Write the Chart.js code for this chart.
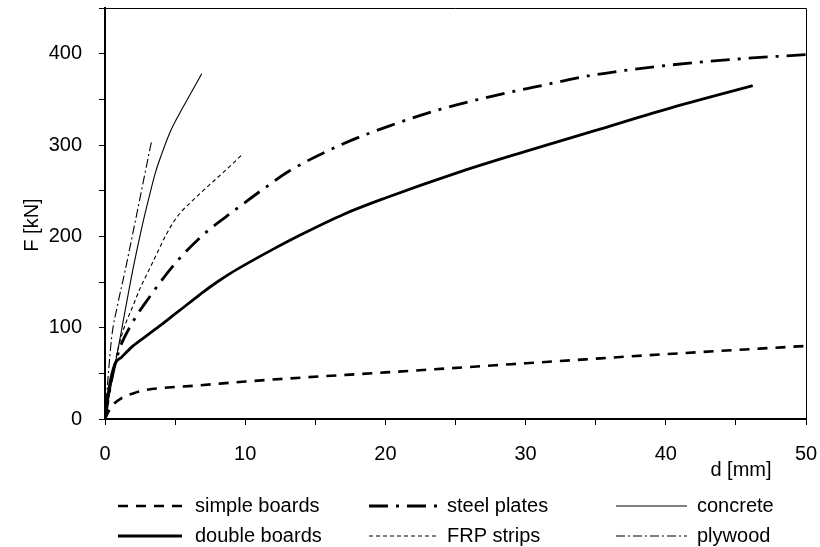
<!DOCTYPE html>
<html>
<head>
<meta charset="utf-8">
<script src="https://cdn.jsdelivr.net/npm/chart.js@4.4.1/dist/chart.umd.min.js"></script>
<style>
  html, body { margin: 0; padding: 0; background: #fff; }
</style>
</head>
<body>
<canvas id="myChart" width="820" height="547"></canvas>
<script>
  // Load F [kN] against displacement d [mm]
  var simpleD = [0, 0.25, 0.6, 1.2, 2, 3, 4.5, 6, 10, 13.2, 20, 30, 40, 50];
  var simpleF = [0, 8, 16, 23, 28, 32, 34.5, 36, 41, 44.5, 51, 61, 71, 80];

  var doubleD = [0, 0.3, 0.7, 1.2, 2, 3, 4, 5, 6, 7, 8, 9, 10, 12, 14, 17, 20, 25, 30, 35, 40, 46.2];
  var doubleF = [0, 35, 60, 68, 80, 91.5, 103, 115, 127, 139, 150, 160, 169, 186, 202, 224, 242, 269, 293, 316, 339, 365];

  var steelD = [0, 0.5, 1, 1.9, 3.1, 5.1, 7.1, 9.2, 11.4, 13.2, 16.8, 20.3, 23.9, 27.5, 30.5, 35, 40, 45, 50];
  var steelF = [0, 45, 75, 104, 132, 172, 203, 228, 253, 272, 300, 321, 339, 353, 363, 377, 387, 394, 399];

  var frpD = [0, 0.4, 0.8, 1.3, 2, 2.5, 3.1, 3.7, 4.3, 4.9, 5.5, 6.1, 7, 8, 9, 9.75];
  var frpF = [0, 36, 68, 97, 124, 143, 162, 181, 200, 216, 228, 237, 250, 264, 278, 289];

  var concreteD = [0, 0.5, 1.07, 1.5, 2.02, 2.6, 3.21, 3.6, 4.04, 4.64, 5.3, 6.1, 6.9];
  var concreteF = [0, 42, 88, 124, 166, 208, 247, 270, 290, 314, 334, 356, 378];

  var plywoodD = [0, 0.2, 0.48, 0.9, 1.43, 1.9, 2.3, 2.8, 3.33];
  var plywoodF = [0, 42, 90, 125, 162, 197, 227, 265, 305];

  var xTicks = [0, 10, 20, 30, 40, 50];
  var yTicks = [0, 100, 200, 300, 400];

  var FONT = '"Liberation Sans", Arial, Helvetica, sans-serif';

  function pts(xs, ys) {
    return xs.map(function(x, i) { return { x: x, y: ys[i] }; });
  }

  function series(label, xs, ys, width, dash) {
    return {
      label: label,
      data: pts(xs, ys),
      borderColor: '#000',
      backgroundColor: '#000',
      borderWidth: width,
      borderDash: dash,
      pointRadius: 0,
      fill: false,
      cubicInterpolationMode: 'monotone'
    };
  }

  var data = {
    datasets: [
      series('simple boards', simpleD, simpleF, 2.6, [10, 8]),
      series('double boards', doubleD, doubleF, 2.8, []),
      series('steel plates', steelD, steelF, 2.8, [19, 8, 3, 8]),
      series('FRP strips', frpD, frpF, 1.1, [4, 3]),
      series('concrete', concreteD, concreteF, 1.1, []),
      series('plywood', plywoodD, plywoodF, 1.1, [9, 3, 2, 3])
    ]
  };

  // frame, axis titles and a three-column legend under the plot
  var extras = {
    id: 'extras',
    afterDraw: function(chart) {
      var ctx = chart.ctx, a = chart.chartArea;
      ctx.save();
      ctx.strokeStyle = '#000';
      ctx.lineWidth = 1;
      ctx.setLineDash([]);
      ctx.beginPath();
      ctx.moveTo(a.left, a.top + 0.5);
      ctx.lineTo(a.right + 0.5, a.top + 0.5);
      ctx.lineTo(a.right + 0.5, a.bottom);
      ctx.stroke();

      ctx.fillStyle = '#000';
      ctx.font = '20px ' + FONT;
      ctx.textAlign = 'center';
      ctx.textBaseline = 'alphabetic';
      ctx.fillText('d [mm]', 741, 476);

      ctx.save();
      ctx.translate(38, 225);
      ctx.rotate(-Math.PI / 2);
      ctx.fillText('F [kN]', 0, 0);
      ctx.restore();

      var colX = [118, 369, 616];
      var colW = [64, 70, 71];
      var textX = [195, 447, 697];
      var rowY = [512, 542];
      ctx.textAlign = 'left';
      chart.data.datasets.forEach(function(ds, i) {
        var col = Math.floor(i / 2), row = i % 2;
        var y = rowY[row] - 6;
        ctx.lineWidth = ds.borderWidth;
        ctx.setLineDash(ds.borderDash || []);
        ctx.beginPath();
        ctx.moveTo(colX[col], y);
        ctx.lineTo(colX[col] + colW[col], y);
        ctx.stroke();
        ctx.setLineDash([]);
        ctx.fillText(ds.label, textX[col], rowY[row]);
      });
      ctx.restore();
    }
  };

  var options = {
    responsive: false,
    animation: false,
    layout: { padding: { top: 8, right: 14, left: 0, bottom: 0 } },
    plugins: { legend: { display: false }, tooltip: { enabled: false } },
    scales: {
      x: {
        type: 'linear',
        min: 0,
        max: 50,
        afterFit: function(s) { s.height = 128; s.paddingLeft = 0; s.paddingRight = 0; },
        border: { display: true, color: '#000', width: 2 },
        grid: { drawOnChartArea: false, drawTicks: true, tickLength: 6, color: '#000', lineWidth: 1 },
        ticks: {
          stepSize: 5,
          padding: 17,
          maxRotation: 0,
          color: '#000',
          font: { size: 20, family: FONT },
          callback: function(v) { return xTicks.indexOf(v) >= 0 ? String(v) : ''; }
        }
      },
      y: {
        min: 0,
        max: 450,
        afterFit: function(s) { s.width = 105; s.paddingTop = 0; s.paddingBottom = 0; },
        border: { display: true, color: '#000', width: 2 },
        grid: { drawOnChartArea: false, drawTicks: true, tickLength: 6, color: '#000', lineWidth: 1 },
        ticks: {
          stepSize: 50,
          padding: 17,
          color: '#000',
          font: { size: 20, family: FONT },
          callback: function(v) { return yTicks.indexOf(v) >= 0 ? String(v) : ''; }
        }
      }
    }
  };

  var ctx = document.getElementById('myChart').getContext('2d');
  var chart = new Chart(ctx, {
    type: 'line',
    data: data,
    options: options,
    plugins: [extras]
  });
</script>
</body>
</html>
